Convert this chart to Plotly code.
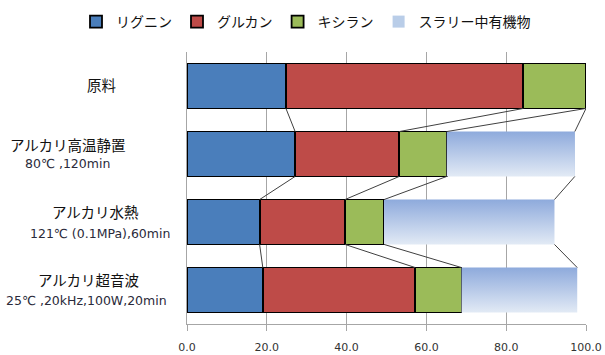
import plotly.graph_objects as go

# Composition of each sample (% of raw material)
categories = ["原料", "アルカリ高温静置", "アルカリ水熱", "アルカリ超音波"]
conditions = ["", "80℃ ,120min", "121℃ (0.1MPa),60min", "25℃ ,20kHz,100W,20min"]
series_names = ["リグニン", "グルカン", "キシラン", "スラリー中有機物"]
lignin = [24.8, 27.1, 18.2, 19.0]
glucan = [59.5, 26.1, 21.4, 38.2]
xylan = [15.7, 11.9, 9.8, 11.6]
slurry_organics = [0.0, 32.1, 42.7, 29.0]
x_ticks = [0, 20, 40, 60, 80, 100]

# Styling
FONT = "Noto Sans CJK JP"
LATIN_FONT = "DejaVu Sans, Noto Sans CJK JP"
COLORS = ["#4A7EBB", "#BE4B48", "#9BBB59", "#B9CDE8"]
GRAD_TOP, GRAD_BOTTOM = "#8EAADC", "#E2EAF5"
AXIS_GRAY = "#A6A6A6"
BAR_W = 0.66
H = BAR_W / 2
W, HGT = 605, 355
L_MARGIN, R_MARGIN, T_MARGIN, B_MARGIN = 187, 19, 52, 31
PLOT_W = W - L_MARGIN - R_MARGIN
PLOT_H = HGT - T_MARGIN - B_MARGIN

# Label placement per row: (line1 centre px, line1 shift, line2 centre px, line2 shift)
LABEL_POS = [(101, 2, 0, 0), (67, 10, 67, -9), (95, 11, 100, -11), (88, 11, 86, -10)]

rows = list(range(len(categories)))
fig = go.Figure()

for name, vals, color in zip(series_names[:3], [lignin, glucan, xylan], COLORS[:3]):
    fig.add_trace(go.Bar(
        x=vals, y=rows, orientation="h", width=BAR_W, name=name,
        marker=dict(color=color, line=dict(color="black", width=1.8)),
    ))

fig.add_trace(go.Bar(
    x=slurry_organics, y=rows, orientation="h", width=BAR_W, name=series_names[3],
    marker=dict(color=COLORS[3], line=dict(width=0)),
))

# cumulative boundaries of each stacked segment
cum = []
for vals in zip(lignin, glucan, xylan, slurry_organics):
    acc, b = 0.0, []
    for v in vals:
        acc += v
        b.append(acc)
    cum.append(b)

# vertical gradient shading on the slurry segments (dark at top, pale at bottom)
for r in rows:
    if slurry_organics[r] <= 0:
        continue
    x0 = cum[r][2]
    x1 = cum[r][3]
    fig.add_trace(go.Scatter(
        x=[x0, x1, x1, x0, x0], y=[r - H, r - H, r + H, r + H, r - H],
        mode="lines", line=dict(width=0), fill="toself",
        fillgradient=dict(type="vertical", start=r - H, stop=r + H,
                          colorscale=[[0, GRAD_TOP], [1, GRAD_BOTTOM]]),
        showlegend=False, hoverinfo="skip",
    ))

# series lines joining segment boundaries of neighbouring bars
lx, ly = [], []
for r in rows[:-1]:
    for k in range(4):
        lx += [cum[r][k], cum[r + 1][k], None]
        ly += [r + H, r + 1 - H, None]
fig.add_trace(go.Scatter(
    x=lx, y=ly, mode="lines", line=dict(color="#404040", width=1),
    showlegend=False, hoverinfo="skip",
))

# two-line category labels
for r, (name, cond) in enumerate(zip(categories, conditions)):
    x1px, s1, x2px, s2 = LABEL_POS[r]
    fig.add_annotation(
        text=name, x=(x1px - L_MARGIN) / PLOT_W, xref="paper", y=r, yref="y",
        yshift=s1, xanchor="center", yanchor="middle", showarrow=False,
        font=dict(family=FONT, size=14.5, color="#111111"),
    )
    if cond:
        fig.add_annotation(
            text=cond, x=(x2px - L_MARGIN) / PLOT_W, xref="paper", y=r, yref="y",
            yshift=s2, xanchor="center", yanchor="middle", showarrow=False,
            font=dict(family=LATIN_FONT, size=12.5, color="#2a2a3a"),
        )

fig.update_layout(
    width=W, height=HGT,
    margin=dict(l=L_MARGIN, r=R_MARGIN, t=T_MARGIN, b=B_MARGIN, autoexpand=False),
    barmode="stack",
    paper_bgcolor="white", plot_bgcolor="white",
    font=dict(family=FONT, size=12, color="#222222"),
    legend=dict(
        orientation="h", xref="paper", x=(76 - L_MARGIN) / PLOT_W, xanchor="left",
        yref="paper", y=(HGT - B_MARGIN - 22) / PLOT_H, yanchor="middle",
        font=dict(family=FONT, size=14, color="#111111"), itemwidth=30,
        traceorder="normal", borderwidth=0,
    ),
    xaxis=dict(
        range=[0, 100], tickvals=x_ticks, tickformat=".1f",
        showgrid=True, gridcolor=AXIS_GRAY, gridwidth=1,
        showline=True, linecolor=AXIS_GRAY, linewidth=1,
        ticks="outside", ticklen=6, tickcolor=AXIS_GRAY,
        tickfont=dict(family=LATIN_FONT, size=11, color="#333333"),
        ticklabelstandoff=7, zeroline=False,
    ),
    yaxis=dict(
        range=[3.5, -0.5], showticklabels=False, showgrid=False,
        showline=True, linecolor=AXIS_GRAY, linewidth=1, zeroline=False, ticks="",
    ),
)

fig.write_html("out.html")
